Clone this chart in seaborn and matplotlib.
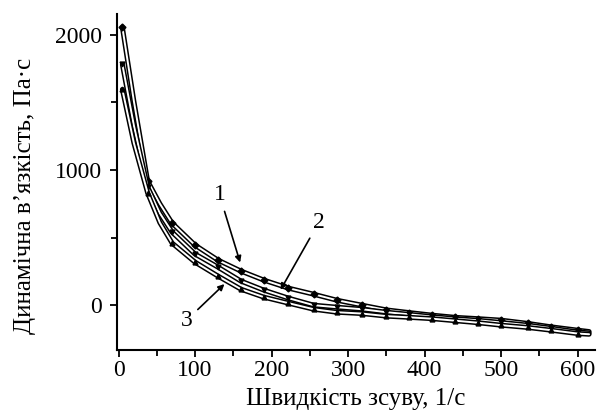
import pandas as pd
import matplotlib.pyplot as plt
import matplotlib.patheffects as pe
import seaborn as sns

# Дані
shear_rate = [5, 20, 38, 54, 70, 100, 130, 160, 190, 222, 255, 285, 318, 350, 380, 410, 440, 470, 500, 535, 565, 600, 615]
visc_1 = [2055, 1510, 918, 750, 607, 444, 333, 252, 185, 126, 81, 37, 0, -35, -55, -74, -90, -100, -111, -135, -160, -185, -195]
visc_2 = [1780, 1330, 874, 680, 540, 378, 281, 178, 111, 52, 0, -15, -30, -52, -68, -85, -100, -112, -128, -148, -170, -198, -205]
visc_3 = [1595, 1200, 830, 610, 459, 318, 215, 118, 59, 15, -30, -52, -62, -81, -90, -100, -115, -130, -148, -165, -185, -210, -215]
marked = [5, 38, 70, 100, 130, 160, 190, 222, 255, 285, 318, 350, 380, 410, 440, 470, 500, 535, 565, 600]

df = pd.DataFrame({
    'x': shear_rate * 3,
    'y': visc_1 + visc_2 + visc_3,
    'curve': ['1'] * len(shear_rate) + ['2'] * len(shear_rate) + ['3'] * len(shear_rate),
})

sns.set_style('ticks', {'axes.edgecolor': 'black', 'text.color': 'black',
                        'axes.labelcolor': 'black', 'xtick.color': 'black', 'ytick.color': 'black'})
plt.rcParams['font.family'] = ['Liberation Serif', 'DejaVu Serif']

fig = plt.figure(figsize=(5.97, 4.12), dpi=100)
ax = fig.add_axes([0.196, 0.150, 0.801, 0.815])

outline = [pe.Stroke(linewidth=3.6, foreground='black'), pe.Stroke(linewidth=1.4, foreground='white')]
markers = {'1': 'D', '2': 'v', '3': '^'}
for name, grp in df.groupby('curve'):
    sns.lineplot(data=grp, x='x', y='y', ax=ax, color='black', linewidth=1,
                 path_effects=outline, legend=False)
    pts = grp[grp['x'].isin(marked)]
    ax.plot(pts['x'], pts['y'], linestyle='none', marker=markers[name],
            markersize=3.5, color='black')

ax.set_xlim(-2, 623)
ax.set_ylim(-333, 2150)
ax.set_xticks([0, 100, 200, 300, 400, 500, 600])
ax.set_xticks([50, 150, 250, 350, 450, 550], minor=True)
ax.set_yticks([0, 1000, 2000])
ax.set_yticks([500, 1500], minor=True)
ax.tick_params(axis='both', which='major', labelsize=17, length=5, width=1.3, direction='out')
ax.tick_params(axis='x', which='major', pad=2)
ax.tick_params(axis='y', which='major', pad=6)
ax.tick_params(axis='both', which='minor', length=4, width=1.3, direction='out')
for s in ['left', 'bottom']:
    ax.spines[s].set_linewidth(1.5)
sns.despine(ax=ax)

ax.set_xlabel('Швидкість зсуву, 1/с', fontsize=18)
ax.set_ylabel('Динамічна в\u2019язкість, Па·с', fontsize=18)
ax.xaxis.set_label_coords(0.50, -0.112)
ax.yaxis.set_label_coords(-0.17, 0.46)

arrow = dict(arrowstyle='-|>', color='black', lw=1.2, mutation_scale=9)
ax.annotate('1', xy=(160, 296), xytext=(132, 815), fontsize=17, ha='center', va='center', arrowprops=arrow)
ax.annotate('2', xy=(210, 96), xytext=(262, 615), fontsize=17, ha='center', va='center', arrowprops=arrow)
ax.annotate('3', xy=(141, 170), xytext=(89, -111), fontsize=17, ha='center', va='center', arrowprops=arrow)

plt.savefig('out.png', dpi=100)
